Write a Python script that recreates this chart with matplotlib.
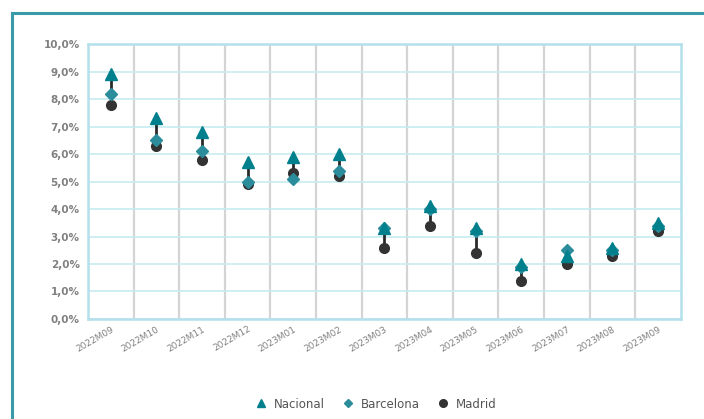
import numpy as np
import matplotlib
matplotlib.use("Agg")
import matplotlib.pyplot as plt
from matplotlib.lines import Line2D
from matplotlib.ticker import FuncFormatter, MultipleLocator

# data (% change)
periods = ["2022M09", "2022M10", "2022M11", "2022M12", "2023M01", "2023M02", "2023M03",
           "2023M04", "2023M05", "2023M06", "2023M07", "2023M08", "2023M09"]
nacional = [8.9, 7.3, 6.8, 5.7, 5.9, 6.0, 3.3, 4.1, 3.3, 2.0, 2.3, 2.6, 3.5]
barcelona = [8.2, 6.5, 6.1, 5.0, 5.1, 5.4, 3.3, 4.0, 3.2, 1.9, 2.5, 2.5, 3.4]
madrid = [7.8, 6.3, 5.8, 4.9, 5.3, 5.2, 2.6, 3.4, 2.4, 1.4, 2.0, 2.3, 3.2]

c_nac = "#00808c"
c_bcn = "#2b8c9c"
c_mad = "#333333"
gray = "#808080"

fig = plt.figure(figsize=(7.04, 4.19), dpi=100)
ax = fig.add_axes([0.125, 0.2387, 0.842, 0.656])

x = np.arange(len(periods))
allv = np.array([nacional, barcelona, madrid])
# high-low lines
ax.vlines(x, allv.min(axis=0), allv.max(axis=0), color="#2a2a2a", lw=2, zorder=2)

ax.plot(x, madrid, "o", color=c_mad, ms=7, ls="none", zorder=3, label="Madrid")
ax.plot(x, barcelona, "D", color=c_bcn, ms=6.5, ls="none", zorder=4, label="Barcelona")
ax.plot(x, nacional, "^", color=c_nac, ms=9, ls="none", zorder=5, label="Nacional")

ax.set_xlim(-0.5, len(periods) - 0.5)
ax.set_ylim(0, 10)
ax.yaxis.set_major_locator(MultipleLocator(1))
ax.yaxis.set_major_formatter(FuncFormatter(lambda v, p: f"{v:.1f}%".replace(".", ",")))

# gridlines: light cyan horizontal, gray vertical at category borders
ax.grid(axis="y", color="#c6ecf1", lw=1.2, zorder=0)
for b in np.arange(0.5, len(periods) - 1, 1):
    ax.axvline(b, color="#d4d4d4", lw=1.6, zorder=0)

ax.set_xticks(x)
ax.set_xticklabels(periods, rotation=30, ha="right", rotation_mode="anchor",
                   fontsize=6.5, color=gray)
ax.tick_params(axis="x", length=0, pad=4)
ax.tick_params(axis="y", length=0, pad=6, labelsize=7.5, labelcolor=gray)
for lab in ax.get_yticklabels():
    lab.set_fontweight("bold")

for s in ax.spines.values():
    s.set_color("#b3e0ea")
    s.set_linewidth(1.8)

# outer frame (left + top visible)
fig.add_artist(Line2D([12 / 704, 12 / 704], [0, 1 - 13 / 419], color="#3a9aa8", lw=2.2,
                      transform=fig.transFigure))
fig.add_artist(Line2D([12 / 704, 1], [1 - 13 / 419, 1 - 13 / 419], color="#3a9aa8", lw=2.2,
                      transform=fig.transFigure))

handles = [Line2D([], [], marker="^", color=c_nac, ls="none", ms=6),
           Line2D([], [], marker="D", color=c_bcn, ls="none", ms=4.5),
           Line2D([], [], marker="o", color=c_mad, ls="none", ms=5.5)]
fig.legend(handles, ["Nacional", "Barcelona", "Madrid"], loc="center",
           bbox_to_anchor=(0.53, 1 - 404 / 419), ncol=3, frameon=False,
           fontsize=8.5, labelcolor="#555555", handletextpad=0.05, columnspacing=1.0)

fig.savefig("out.png", dpi=100)
